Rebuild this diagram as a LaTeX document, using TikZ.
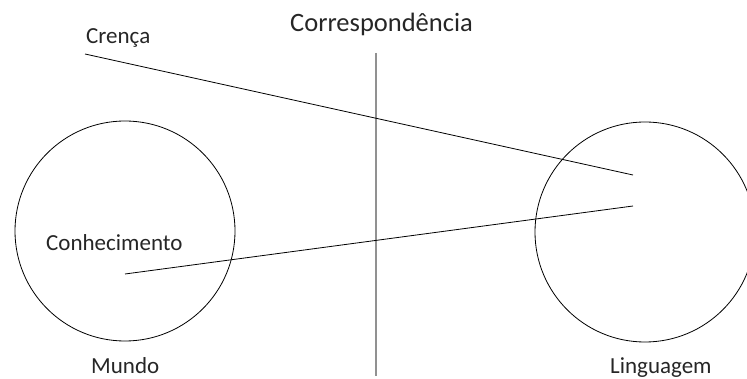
\documentclass[tikz,border=0pt]{standalone}
\usepackage{fontspec}
\setmainfont{Carlito}
\usepackage{tikz}
\usetikzlibrary{positioning}
\definecolor{divider}{RGB}{145,145,145}

\begin{document}
\begin{tikzpicture}[x=1pt, y=-1pt,
  realm/.style={draw, circle, minimum size=220pt, inner sep=0pt, line width=0.8pt},
  word/.style={font=\fontsize{23}{26}\selectfont, text=black!85, inner sep=0pt, anchor=base west},
  link/.style={line width=0.8pt}
]
\useasboundingbox (0,0) rectangle (747,379);
\clip (0,0) rectangle (747,379);
% title and divider
\node[word, font=\fontsize{26.5}{30}\selectfont] (corr) at (290,32) {Correspondência};
\coordinate (divtop) at (376,53);
\coordinate (divbot) at (376,376);
\draw[divider, line width=2pt] (divtop) -- (divbot);
% the two realms
\node[realm] (mundo) at (125,231) {};
\node[realm] (ling) at (645,232) {};
\node[word] (mundolbl) at (91,373) {Mundo};
\node[word] (linglbl) at (610,373) {Linguagem};
% belief and knowledge
\node[word] (crenca) at (86,44) {Crença};
\node[word] (conhec) at (46,251) {Conhecimento};
\coordinate (crencaA) at (85,54);
\coordinate (crencaB) at (633,175);
\coordinate (conhecA) at (125,274);
\coordinate (conhecB) at (633,206);
\draw[link] (crencaA) -- (crencaB);
\draw[link] (conhecA) -- (conhecB);
\end{tikzpicture}
\end{document}
